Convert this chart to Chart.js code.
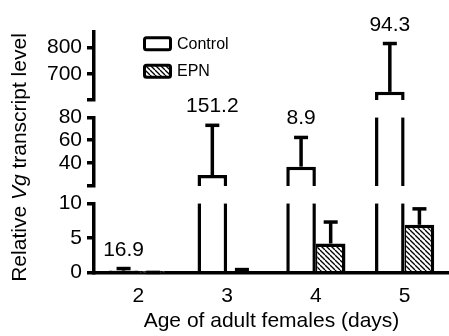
<!DOCTYPE html>
<html><head><meta charset="utf-8">
<script src="https://cdn.jsdelivr.net/npm/chart.js@4.4.1/dist/chart.umd.min.js"></script>
<style>html,body{margin:0;padding:0;background:#fff;}#wrap{width:449px;height:336px;}</style>
</head><body><div id="wrap"><canvas id="c" width="449" height="336"></canvas></div>
<script>
// ---- data ----
const days = ['2', '3', '4', '5'];
const seriesNames = ['Control', 'EPN'];
const controlMean = [0.3, 29.6, 36.9, 631];
const controlErr = [0.3, 43.4, 25.5, 184];
const epnMean = [0.02, 0.2, 4.2, 6.9];
const epnErr = [0.02, 0.25, 3.1, 2.3];
const foldLabels = ['16.9', '151.2', '8.9', '94.3'];
const segLow = [0, 10];
const segMid = [20, 80];
const segHigh = [600, 860];
const ticksLow = [0, 5, 10];
const ticksMid = [40, 60, 80];
const ticksHigh = [700, 800];
const xTitle = 'Age of adult females (days)';
const yTitleParts = ['Relative ', 'Vg', ' transcript level'];

// ---- styling ----
const FONT = '"Liberation Sans", Arial, Helvetica, sans-serif';
const LW = 3.5;
const segments = [segLow, segMid, segHigh];
const segTicks = [ticksLow, ticksMid, ticksHigh];
const axisIds = ['yLow', 'yMid', 'yHigh'];
const means = [controlMean, epnMean];
const errs = [controlErr, epnErr];

function makeHatch() {
  const s = 5;
  const c = document.createElement('canvas');
  c.width = s; c.height = s;
  const g = c.getContext('2d');
  g.fillStyle = '#fff'; g.fillRect(0, 0, s, s);
  g.strokeStyle = '#000'; g.lineWidth = 1.3;
  for (const o of [-s, 0, s]) {
    g.beginPath(); g.moveTo(o, 0); g.lineTo(o + s, s); g.stroke();
  }
  return g.createPattern(c, 'repeat');
}
const hatch = makeHatch();
const fills = ['#ffffff', hatch];

function segIndexFor(v) {
  let idx = 0;
  segments.forEach((s, i) => { if (v >= s[0]) idx = i; });
  return idx;
}

const datasets = [];
means.forEach((vals, si) => {
  segments.forEach((seg, gi) => {
    datasets.push({
      label: seriesNames[si],
      stack: seriesNames[si],
      yAxisID: axisIds[gi],
      data: vals.map(v => v >= seg[0] ? [seg[0], Math.min(v, seg[1])] : null),
      backgroundColor: fills[si],
      borderColor: '#000',
      borderSkipped: false,
      borderWidth: (c) => {
        const i = c.dataIndex;
        if (i === undefined) return LW;
        const v = vals[i];
        return {
          left: si === 1 ? 1.5 : LW,
          right: LW,
          top: v > seg[1] ? 0 : LW,
          bottom: 0
        };
      },
      barPercentage: 1.0,
      categoryPercentage: 0.667,
      inflateAmount: 0
    });
  });
});

function yScale(gi, weight) {
  const seg = segments[gi];
  const capTick = gi > 0 ? [seg[0]] : [];
  return {
    type: 'linear', position: 'left', stack: 'y', stackWeight: weight,
    min: seg[0], max: seg[1], stacked: false,
    afterBuildTicks: (sc) => { sc.ticks = capTick.concat(segTicks[gi]).map(v => ({value: v})); },
    afterFit: (sc) => { sc.width = 94; },
    ticks: {
      color: '#000', padding: 5, autoSkip: false, font: {family: FONT, size: 21},
      callback: (v) => segTicks[gi].includes(v) ? String(v) : ''
    },
    grid: {drawOnChartArea: false, drawTicks: true, tickLength: 7, lineWidth: LW, color: '#000'},
    border: {display: true, width: LW, color: '#000'}
  };
}
function gapScale(weight) {
  return {type: 'linear', position: 'left', stack: 'y', stackWeight: weight, display: false, min: 0, max: 1};
}

const errorBars = {
  id: 'errorBars',
  afterDatasetsDraw(chart) {
    const ctx = chart.ctx;
    ctx.save();
    ctx.strokeStyle = '#000';
    ctx.lineWidth = LW;
    ctx.lineCap = 'butt';
    means.forEach((vals, si) => {
      vals.forEach((m, i) => {
        const top = m + errs[si][i];
        const gM = segIndexFor(m), gT = segIndexFor(top);
        const el = chart.getDatasetMeta(si * 3 + gM).data[i];
        const x = el.x;
        const y1 = chart.scales[axisIds[gM]].getPixelForValue(m);
        const y2 = chart.scales[axisIds[gT]].getPixelForValue(top);
        ctx.beginPath(); ctx.moveTo(x, y1); ctx.lineTo(x, y2); ctx.stroke();
        ctx.beginPath(); ctx.moveTo(x - 7, y2); ctx.lineTo(x + 7, y2); ctx.stroke();
        if (si === 0) {
          ctx.save();
          ctx.fillStyle = '#000';
          ctx.font = '21px ' + FONT;
          ctx.textAlign = 'center';
          ctx.textBaseline = 'alphabetic';
          ctx.fillText(foldLabels[i], x, y2 - 13);
          ctx.restore();
        }
      });
    });
    ctx.restore();
  }
};

const customLegend = {
  id: 'customLegend',
  afterDraw(chart) {
    const ctx = chart.ctx;
    const a = chart.chartArea;
    ctx.save();
    seriesNames.forEach((name, si) => {
      const bx = a.left + 49, by = a.top + 4.5 + si * 27.5;
      ctx.beginPath();
      ctx.roundRect(bx + 1.5, by + 1.5, 26, 12, 2);
      ctx.fillStyle = fills[si];
      ctx.fill();
      ctx.lineWidth = 3;
      ctx.strokeStyle = '#000';
      ctx.stroke();
      ctx.fillStyle = '#000';
      ctx.font = '16px ' + FONT;
      ctx.textBaseline = 'middle';
      ctx.textAlign = 'left';
      ctx.fillText(name, bx + 34, by + 8);
    });
    ctx.restore();
  }
};

const yTitle = {
  id: 'yTitle',
  afterDraw(chart) {
    const ctx = chart.ctx;
    ctx.save();
    const fonts = ['21px ' + FONT, 'italic 21px ' + FONT, '21px ' + FONT];
    const widths = yTitleParts.map((t, k) => { ctx.font = fonts[k]; return ctx.measureText(t).width; });
    const total = widths.reduce((p, q) => p + q, 0);
    ctx.translate(20, 157.5);
    ctx.rotate(-Math.PI / 2);
    ctx.fillStyle = '#000';
    ctx.textBaseline = 'middle';
    ctx.textAlign = 'left';
    let x = -total / 2;
    yTitleParts.forEach((t, k) => { ctx.font = fonts[k]; ctx.fillText(t, x, 0); x += widths[k]; });
    ctx.restore();
  }
};

new Chart(document.getElementById('c'), {
  type: 'bar',
  data: {labels: days, datasets},
  options: {
    responsive: false,
    animation: false,
    devicePixelRatio: 1,
    layout: {padding: {top: 31.7, right: -5, left: 0, bottom: 0}},
    plugins: {legend: {display: false}, tooltip: {enabled: false}},
    scales: {
      x: {
        type: 'category',
        afterFit: (sc) => { sc.height = 63.3; },
        grid: {display: false},
        border: {display: true, width: LW, color: '#000'},
        ticks: {color: '#000', padding: 3, font: {family: FONT, size: 21}},
        title: {display: true, text: xTitle, color: '#000', font: {family: FONT, size: 21}, padding: {top: 0, bottom: 2}}
      },
      yLow: yScale(0, 69.4),
      gap1: gapScale(17.3),
      yMid: yScale(1, 68.7),
      gap2: gapScale(17.3),
      yHigh: yScale(2, 68.3)
    }
  },
  plugins: [errorBars, customLegend, yTitle]
});
</script>
</body></html>
